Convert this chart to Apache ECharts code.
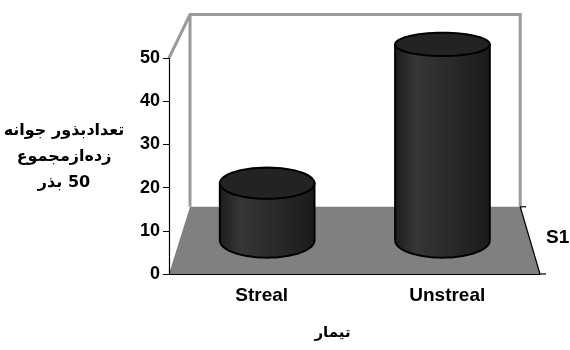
<!DOCTYPE html>
<html dir="ltr">
<head>
<meta charset="utf-8">
<script src="https://cdn.jsdelivr.net/npm/echarts@6/dist/echarts.min.js"></script>
<style>
  html, body { margin: 0; padding: 0; background: #fff; }
  #chart { width: 570px; height: 350px; }
</style>
</head>
<body>
<div id="chart"></div>
<script>
// Germinated seeds per treatment (out of 50 seeds)
const categories = ['Streal', 'Unstreal'];
const seriesName = 'S1';
const values = [14, 48];
const yTicks = [0, 10, 20, 30, 40, 50];
// Axis titles (Persian, right-to-left)
const yTitleLines = ['تعدادبذور جوانه', 'زده‌ازمجموع', '50 بذر'];
const xTitle = 'تیمار';

const LATIN = '"Liberation Sans", Arial, sans-serif';
const ARABIC = '"DejaVu Sans", sans-serif';

// Wrap a line in a right-to-left embedding so digits sit on the right
function rtl(line) {
  return '\u202B' + line + '\u202C';
}

// 3D box: the back plane is the front plane shrunk toward a vanishing point
const BACK_SCALE = 0.89;
function project(cs, p, depth) {
  const vx = cs.x + cs.width * 0.515;
  const vy = cs.y - cs.height * 1.83;
  const s = 1 - (1 - BACK_SCALE) * depth;
  return [vx + (p[0] - vx) * s, vy + (p[1] - vy) * s];
}

function renderBox(params, api) {
  const cs = params.coordSys;
  const fl = [cs.x, cs.y + cs.height];
  const fr = [cs.x + cs.width, cs.y + cs.height];
  const tl = [cs.x, cs.y];
  const bl = project(cs, fl, 1);
  const br = project(cs, fr, 1);
  const btl = project(cs, tl, 1);
  const btr = project(cs, [cs.x + cs.width, cs.y], 1);
  const mid = [(fr[0] + br[0]) / 2, (fr[1] + br[1]) / 2];
  const wallLine = { stroke: '#9a9a9a', lineWidth: 3, fill: null };
  return {
    type: 'group',
    children: [
      { type: 'polygon', shape: { points: [btl, btr, br, bl] }, style: { fill: '#ffffff' } },
      { type: 'polygon', shape: { points: [fl, fr, br, bl] }, style: { fill: '#808080' } },
      { type: 'polyline', shape: { points: [tl, btl, btr, br] }, style: wallLine },
      { type: 'line', shape: { x1: btl[0], y1: btl[1], x2: bl[0], y2: bl[1] }, style: wallLine },
      { type: 'line', shape: { x1: fr[0], y1: fr[1], x2: br[0], y2: br[1] }, style: { stroke: '#000', lineWidth: 1.2 } },
      { type: 'line', shape: { x1: br[0], y1: br[1], x2: br[0] + 6, y2: br[1] }, style: { stroke: '#000', lineWidth: 1.2 } },
      { type: 'line', shape: { x1: fr[0], y1: fr[1], x2: fr[0] + 6, y2: fr[1] }, style: { stroke: '#000', lineWidth: 1.2 } },
      {
        type: 'text', x: mid[0] + 16, y: mid[1] - 3,
        style: { text: seriesName, fill: '#000', font: 'bold 19px ' + LATIN, align: 'left', verticalAlign: 'middle' }
      }
    ]
  };
}

function ellipsePoints(cx, cy, rx, ry, a0, a1, n) {
  const pts = [];
  for (let i = 0; i <= n; i++) {
    const a = a0 + (a1 - a0) * i / n;
    pts.push([cx + rx * Math.cos(a), cy + ry * Math.sin(a)]);
  }
  return pts;
}

function renderCylinder(params, api) {
  const cs = params.coordSys;
  const idx = api.value(0);
  const base = project(cs, api.coord([idx, 0]), 0.5);
  const top = project(cs, api.coord([idx, api.value(1)]), 0.5);
  const band = api.size([1, 0])[0];
  const s = 1 - (1 - BACK_SCALE) * 0.5;
  const rx = band * 0.27 * s;
  const ryFor = y => rx * (0.255 + 0.13 * (y - cs.y) / cs.height);
  const cx = base[0];
  const ryT = ryFor(top[1]);
  const ryB = ryFor(base[1]);
  const body = [[cx - rx, top[1]]]
    .concat(ellipsePoints(cx, base[1], rx, ryB, Math.PI, 0, 40))
    .concat([[cx + rx, top[1]]]);
  return {
    type: 'group',
    children: [
      {
        type: 'polygon', shape: { points: body },
        style: {
          fill: {
            type: 'linear', x: 0, y: 0, x2: 1, y2: 0,
            colorStops: [
              { offset: 0, color: '#1b1b1b' },
              { offset: 0.22, color: '#363636' },
              { offset: 0.55, color: '#2b2b2b' },
              { offset: 1, color: '#1a1a1a' }
            ]
          },
          stroke: '#000', lineWidth: 2
        }
      },
      {
        type: 'polygon', shape: { points: ellipsePoints(cx, top[1], rx, ryT, 0, Math.PI * 2, 60) },
        style: { fill: '#232323', stroke: '#000', lineWidth: 2 }
      }
    ]
  };
}

const chart = echarts.init(document.getElementById('chart'), null, { renderer: 'canvas' });
chart.setOption({
  animation: false,
  backgroundColor: '#ffffff',
  grid: { left: 169, right: 30, top: 58, bottom: 76 },
  xAxis: {
    type: 'category',
    data: categories,
    axisLine: { lineStyle: { color: '#000', width: 1.2 } },
    axisTick: { length: 6, lineStyle: { color: '#000' } },
    axisLabel: { color: '#000', fontFamily: LATIN, fontWeight: 'bold', fontSize: 19, margin: 12 },
    name: xTitle,
    nameLocation: 'middle',
    nameGap: 52,
    nameTextStyle: { color: '#000', fontFamily: ARABIC, fontWeight: 'bold', fontSize: 15, padding: [0, 44, 0, 0] }
  },
  yAxis: {
    type: 'value',
    min: yTicks[0],
    max: yTicks[yTicks.length - 1],
    interval: yTicks[1] - yTicks[0],
    axisLine: { show: true, lineStyle: { color: '#000', width: 1.2 } },
    axisTick: { show: true, length: 6, lineStyle: { color: '#000' } },
    axisLabel: { color: '#000', fontFamily: LATIN, fontWeight: 'bold', fontSize: 18, margin: 9 },
    splitLine: { show: false }
  },
  graphic: [{
    type: 'text', x: 64, y: 157, z: 10,
    style: {
      text: yTitleLines.map(rtl).join('\n'),
      fill: '#000',
      font: 'bold 16px ' + ARABIC,
      align: 'center',
      verticalAlign: 'middle',
      lineHeight: 26
    }
  }],
  series: [
    {
      type: 'custom',
      name: 'box',
      silent: true,
      clip: false,
      z: 0,
      data: [[0, 0]],
      renderItem: renderBox
    },
    {
      type: 'custom',
      name: seriesName,
      silent: true,
      clip: false,
      z: 2,
      data: values.map((v, i) => [i, v]),
      renderItem: renderCylinder
    }
  ]
});
</script>
</body>
</html>
